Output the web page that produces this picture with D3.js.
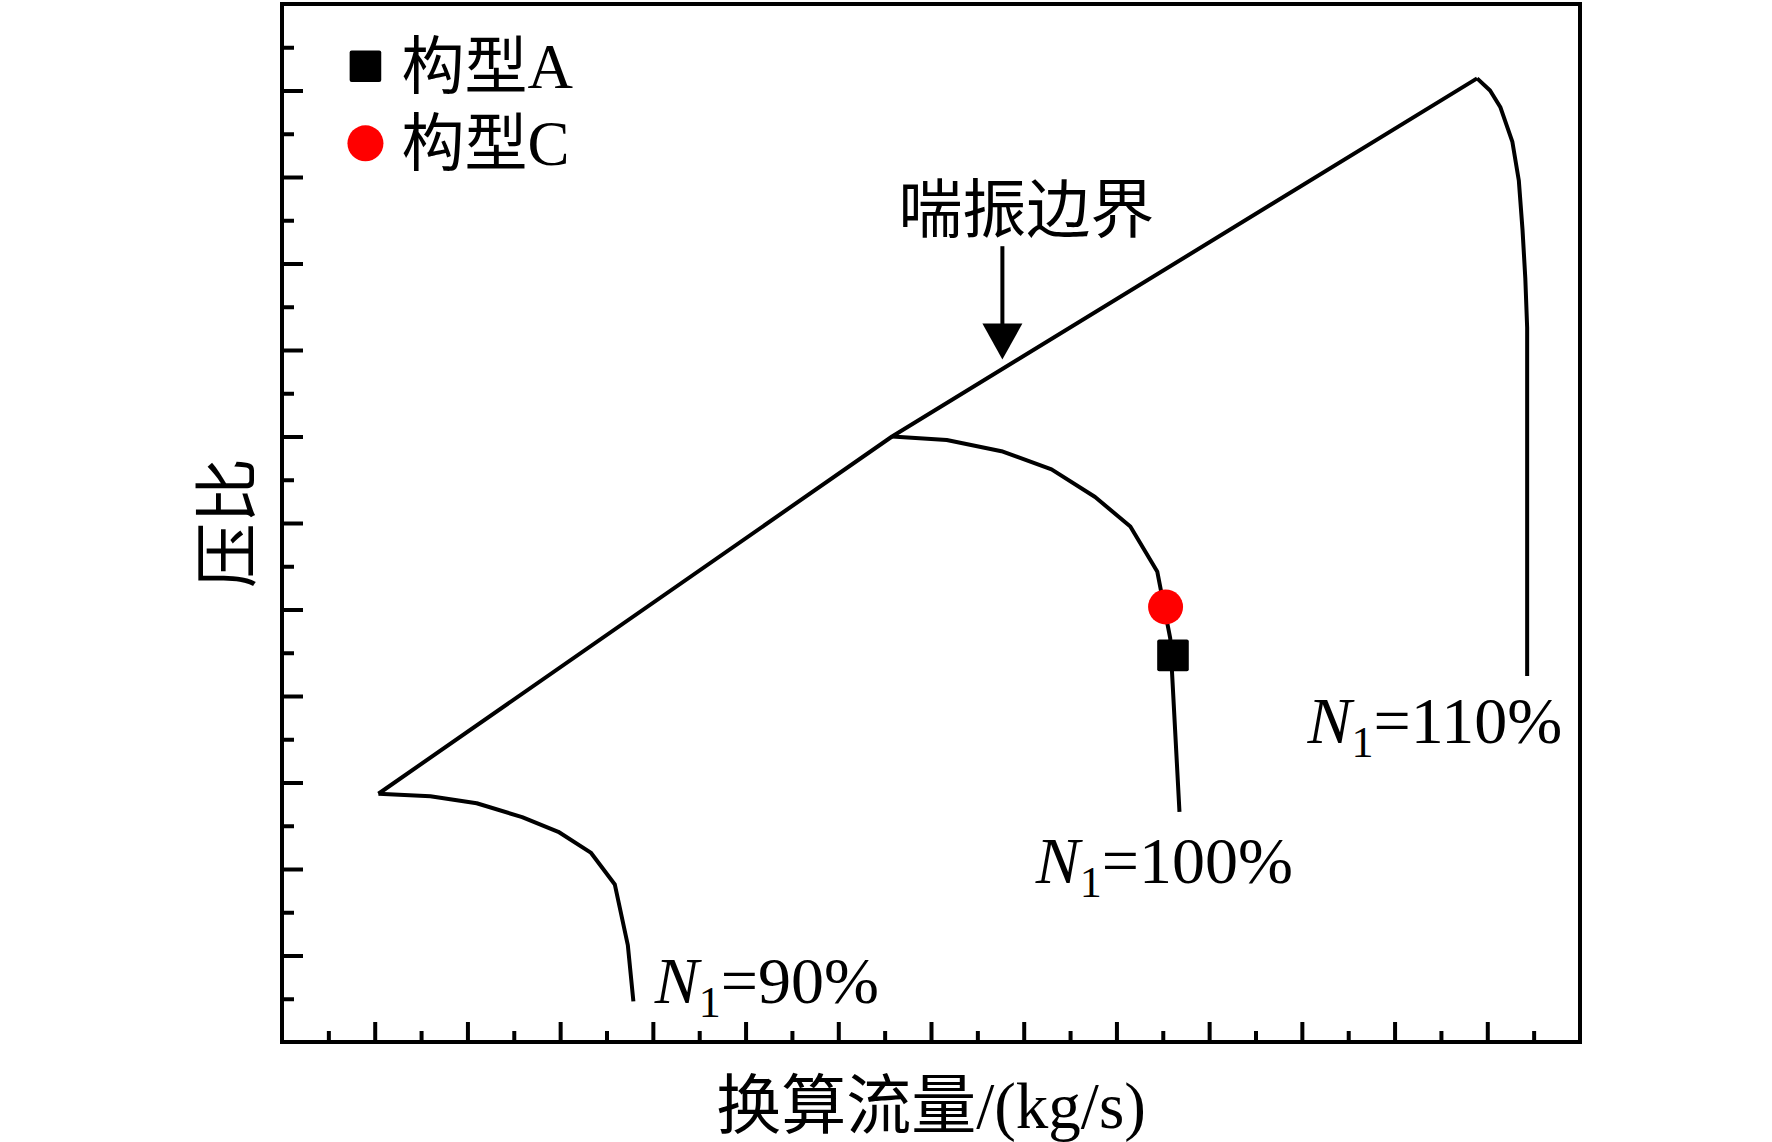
<!DOCTYPE html>
<html>
<head>
<meta charset="utf-8">
<script src="https://cdn.jsdelivr.net/npm/d3@7"></script>
<style>
  html, body { margin: 0; padding: 0; background: #fff; }
  svg { display: block; }
</style>
</head>
<body>
<svg id="chart" width="1772" height="1142"></svg>
<script>
// AXIS TICKS (no tick labels in the original figure)
const xMajorTicks = [1, 2, 3, 4, 5, 6, 7, 8, 9, 10, 11, 12, 13];
const xMinorTicks = [0.5, 1.5, 2.5, 3.5, 4.5, 5.5, 6.5, 7.5, 8.5, 9.5, 10.5, 11.5, 12.5, 13.5];
const yMajorTicks = [1, 2, 3, 4, 5, 6, 7, 8, 9, 10, 11];
const yMinorTicks = [0.5, 1.5, 2.5, 3.5, 4.5, 5.5, 6.5, 7.5, 8.5, 9.5, 10.5, 11.5];

// SPEED LINES  [flow, pressure ratio]
const speed90 = [[1.04, 2.87], [1.60, 2.84], [2.10, 2.76], [2.59, 2.60], [2.98, 2.43],
                 [3.33, 2.19], [3.59, 1.82], [3.73, 1.12], [3.79, 0.47]];
const speed100 = [[6.58, 7.00], [7.17, 6.96], [7.76, 6.83], [8.30, 6.62], [8.77, 6.30],
                  [9.15, 5.96], [9.44, 5.44], [9.58, 4.67], [9.68, 2.66]];
const speed110 = [[12.89, 11.14], [13.03, 11.00], [13.14, 10.81], [13.27, 10.41], [13.34, 9.96],
                  [13.38, 9.39], [13.41, 8.83], [13.43, 8.26], [13.43, 7.23], [13.43, 5.81], [13.43, 4.23]];
const surgeLine = [[1.04, 2.87], [6.58, 7.00], [12.89, 11.14]];

// OPERATING POINTS
const configA = [[9.61, 4.47]];
const configC = [[9.53, 5.03]];

// LABELS
const speedLabels = [
  { pct: "90%", x: 4.02, y: 0.45 },
  { pct: "100%", x: 8.13, y: 1.84 },
  { pct: "110%", x: 11.06, y: 3.46 }
];
const legendNames = ["构型A", "构型C"];
const legendRows = [11.28, 10.39];
const surgeText = "喘振边界";
const surgeArrow = { x: 7.77, yFrom: 9.20, yTo: 7.89, text: 9.36 };
const xTitle = "换算流量/(kg/s)";
const yTitle = "压比";

const FONT = "'Liberation Serif', 'Times New Roman', 'Noto Sans CJK SC', serif";

const svg = d3.select("#chart");
const margin = { left: 282, top: 4, right: 192, bottom: 100 };
const W = 1772 - margin.left - margin.right;
const H = 1142 - margin.top - margin.bottom;

const x = d3.scaleLinear().domain([0, 14]).range([0, W]);
const y = d3.scaleLinear().domain([0, 12]).range([H, 0]);

const g = svg.append("g").attr("transform", `translate(${margin.left},${margin.top})`);

// TICKS (inward)
function tickAxis(axis, cls) {
  const a = g.append("g").attr("class", cls).call(axis);
  a.select(".domain").remove();
  a.selectAll("line").attr("stroke", "#000").attr("stroke-width", 4);
  return a;
}
tickAxis(d3.axisBottom(x).tickValues(xMajorTicks).tickSize(-20).tickFormat(""), "xmaj")
  .attr("transform", `translate(0,${H})`);
tickAxis(d3.axisBottom(x).tickValues(xMinorTicks).tickSize(-11).tickFormat(""), "xmin")
  .attr("transform", `translate(0,${H})`);
tickAxis(d3.axisLeft(y).tickValues(yMajorTicks).tickSize(-21).tickFormat(""), "ymaj");
tickAxis(d3.axisLeft(y).tickValues(yMinorTicks).tickSize(-12).tickFormat(""), "ymin");

// FRAME
g.append("rect")
  .attr("width", W).attr("height", H)
  .attr("fill", "none").attr("stroke", "#000").attr("stroke-width", 4);

// CURVES
const line = d3.line().x(d => x(d[0])).y(d => y(d[1]));
[surgeLine, speed90, speed100, speed110].forEach(s => {
  g.append("path")
    .attr("d", line(s))
    .attr("fill", "none")
    .attr("stroke", "#000")
    .attr("stroke-width", 4)
    .attr("stroke-linejoin", "round");
});

// MARKERS
g.selectAll(".ptC").data(configC).enter().append("circle")
  .attr("cx", d => x(d[0])).attr("cy", d => y(d[1]))
  .attr("r", 17.5).attr("fill", "#ff0000");
g.selectAll(".ptA").data(configA).enter().append("rect")
  .attr("x", d => x(d[0]) - 15.8).attr("y", d => y(d[1]) - 15.8)
  .attr("width", 31.6).attr("height", 31.6).attr("rx", 2)
  .attr("fill", "#000");

// SPEED LABELS  N1=xx%
speedLabels.forEach(l => {
  const t = g.append("text")
    .attr("x", x(l.x)).attr("y", y(l.y))
    .attr("font-family", FONT).attr("font-size", 66).attr("fill", "#000");
  t.append("tspan").attr("font-style", "italic").text("N");
  t.append("tspan").attr("font-size", 44).attr("dy", 14).text("1");
  t.append("tspan").attr("dy", -14).text("=" + l.pct);
});

// SURGE ANNOTATION
const ax = x(surgeArrow.x);
g.append("line")
  .attr("x1", ax).attr("x2", ax)
  .attr("y1", y(surgeArrow.yFrom)).attr("y2", y(surgeArrow.yTo) - 30)
  .attr("stroke", "#000").attr("stroke-width", 4);
g.append("path")
  .attr("d", `M${ax - 20},${y(surgeArrow.yTo) - 36}L${ax + 20},${y(surgeArrow.yTo) - 36}L${ax},${y(surgeArrow.yTo)}Z`)
  .attr("fill", "#000");
g.append("text")
  .attr("x", ax + 24).attr("y", y(surgeArrow.text))
  .attr("text-anchor", "middle")
  .attr("font-family", FONT).attr("font-size", 64)
  .text(surgeText);

// LEGEND
const leg = g.append("g");
leg.append("rect")
  .attr("x", x(0.90) - 15.8).attr("y", y(legendRows[0]) - 15.8)
  .attr("width", 31.6).attr("height", 31.6).attr("rx", 2).attr("fill", "#000");
leg.append("circle")
  .attr("cx", x(0.90)).attr("cy", y(legendRows[1])).attr("r", 18).attr("fill", "#ff0000");
legendNames.forEach((n, i) => {
  leg.append("text")
    .attr("x", x(1.29)).attr("y", y(legendRows[i]) + 22)
    .attr("font-family", FONT).attr("font-size", 63)
    .text(n);
});

// AXIS TITLES
svg.append("text")
  .attr("x", margin.left + W / 2).attr("y", 1128)
  .attr("text-anchor", "middle")
  .attr("font-family", FONT).attr("font-size", 65)
  .text(xTitle);
svg.append("text")
  .attr("transform", `translate(250,${margin.top + H / 2}) rotate(-90)`)
  .attr("text-anchor", "middle")
  .attr("font-family", FONT).attr("font-size", 65)
  .text(yTitle);
</script>
</body>
</html>
